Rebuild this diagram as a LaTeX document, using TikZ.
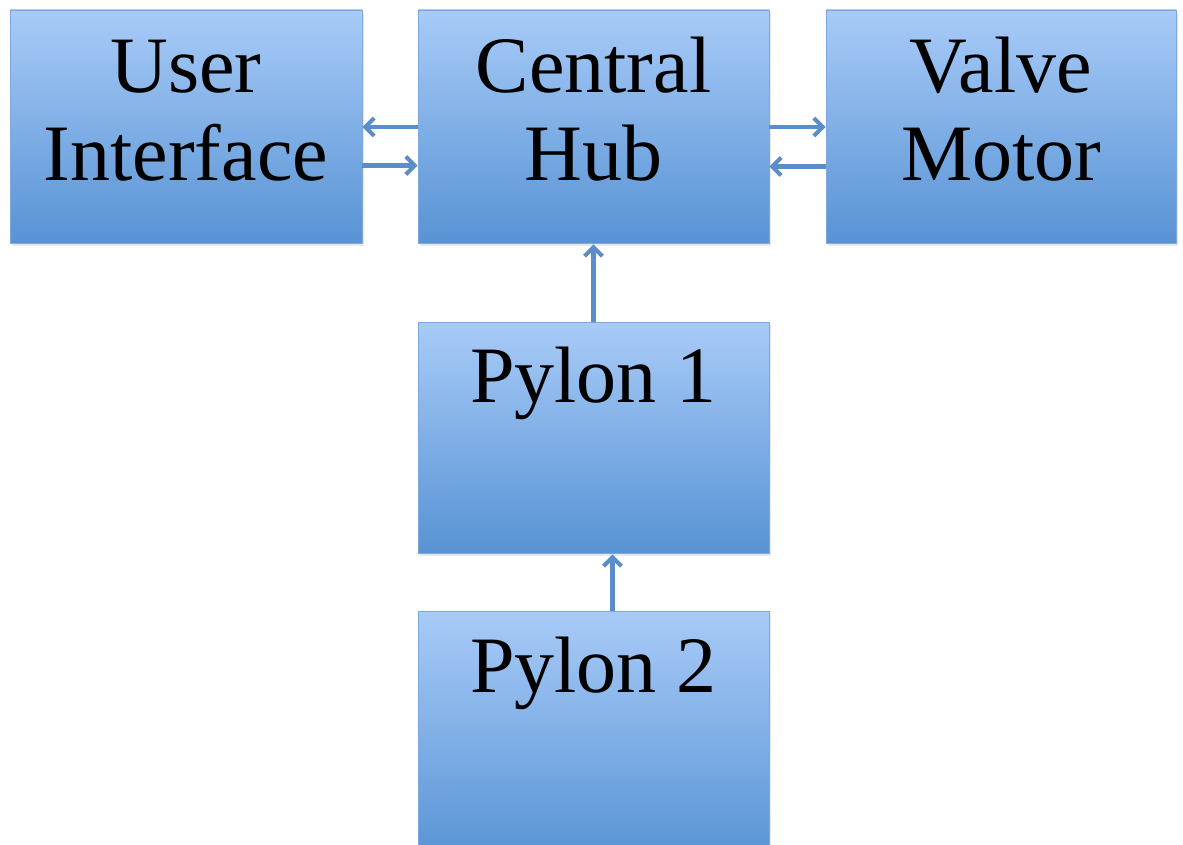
\documentclass[tikz,border=0pt]{standalone}
\usepackage{fontspec}
\setmainfont{Liberation Serif}
\usetikzlibrary{arrows.meta,shadows}
\definecolor{boxtop}{HTML}{A8CBF8}
\definecolor{boxbot}{HTML}{5893D4}
\definecolor{boxedge}{HTML}{7EA8DC}
\definecolor{link}{HTML}{5A8ECB}
\tikzset{
  block/.style={rectangle, draw=boxedge, line width=0.8pt, top color=boxtop, bottom color=boxbot,
    inner sep=0pt, drop shadow={opacity=0.18, shadow xshift=2pt, shadow yshift=-3pt}},
  caption/.style={anchor=base, inner sep=0pt, font=\fontsize{80}{87}\selectfont},
  flow/.style={draw=link, line width=4.5pt, -{Straight Barb[length=9pt,width=18pt,line width=4pt]}},
}
\begin{document}
\begin{tikzpicture}[x=1pt,y=-1pt]
  \path[use as bounding box, clip] (0,0) rectangle (1183,845);
  \fill[white] (0,0) rectangle (1183,845);

  % blocks
  \node[block, minimum width=352pt, minimum height=233pt] (ui)    at (186,126.5) {};
  \node[block, minimum width=351pt, minimum height=233pt] (hub)   at (593.5,126.5) {};
  \node[block, minimum width=350pt, minimum height=233pt] (valve) at (1001,126.5) {};
  \node[block, minimum width=351pt, minimum height=231pt] (p1)    at (593.5,437.5) {};
  \node[block, minimum width=351pt, minimum height=250pt] (p2)    at (593.5,736) {};

  % captions
  \node[caption] (uiA)    at (186,93)    {User};
  \node[caption] (uiB)    at (186,181)   {Interface};
  \node[caption] (hubA)   at (593.5,93)  {Central};
  \node[caption] (hubB)   at (593.5,181) {Hub};
  \node[caption] (valveA) at (1001,93)   {Valve};
  \node[caption] (valveB) at (1001,181)  {Motor};
  \node[caption] (p1A)    at (593.5,402) {Pylon 1};
  \node[caption] (p2A)    at (593.5,692) {Pylon 2};

  % links (yshift is in page coordinates: negative moves down)
  \draw[flow] ([yshift=-0.5pt]hub.west) -- ([yshift=-0.5pt]ui.east);
  \draw[flow] ([yshift=-39pt]ui.east) -- ([yshift=-39pt]hub.west);
  \draw[flow] ([yshift=-0.5pt]hub.east) -- ([yshift=-0.5pt]valve.west);
  \draw[flow] ([yshift=-40pt]valve.west) -- ([yshift=-40pt]hub.east);
  \draw[flow] (p1.north) -- ([yshift=-1pt]hub.south);
  \draw[flow] ([xshift=19pt]p2.north) -- ([xshift=19pt,yshift=-1pt]p1.south);
\end{tikzpicture}
\end{document}
